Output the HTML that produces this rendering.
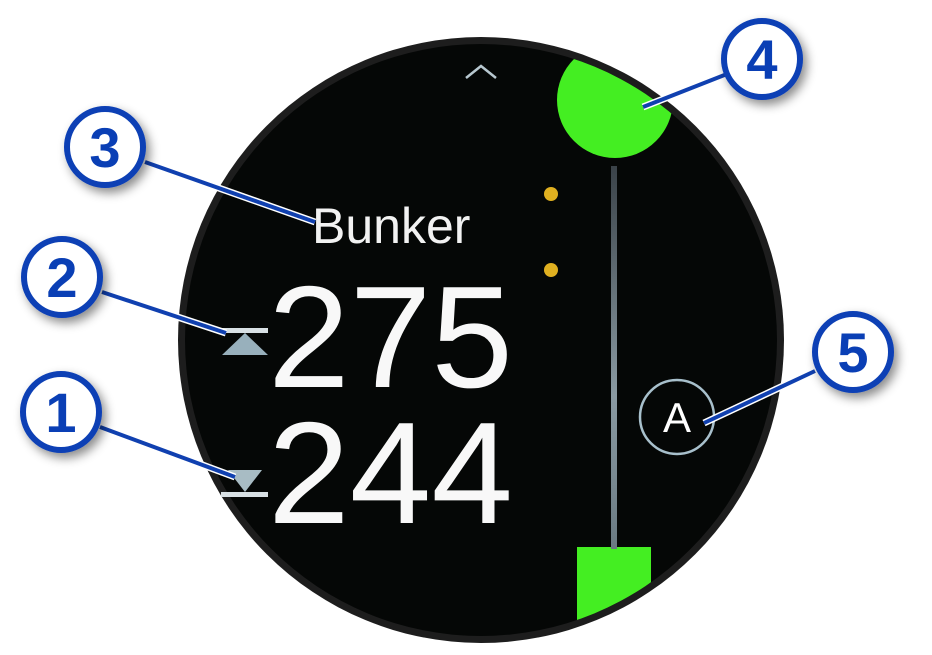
<!DOCTYPE html>
<html><head><style>html,body{margin:0;padding:0;background:#fff}</style></head>
<body>
<svg width="932" height="650" viewBox="0 0 932 650" xmlns="http://www.w3.org/2000/svg">
<defs>
<clipPath id="c"><circle cx="481" cy="340" r="296"/></clipPath>
<linearGradient id="bar" x1="0" y1="0" x2="0" y2="1"><stop offset="0" stop-color="#3a4248"/><stop offset="0.6" stop-color="#8a9aa2"/><stop offset="1" stop-color="#6a7a82"/></linearGradient>
<filter id="sh" x="-50%" y="-50%" width="200%" height="200%"><feDropShadow dx="4" dy="5" stdDeviation="5" flood-color="#000" flood-opacity="0.45"/></filter>
</defs>
<circle cx="481" cy="340" r="303" fill="#1d1d1d"/>
<circle cx="481" cy="340" r="296" fill="#050706"/>
<g clip-path="url(#c)">
<circle cx="615" cy="100" r="58" fill="#44ee22"/>
<rect x="577" y="547" width="74" height="110" fill="#44ee22"/>
</g>
<rect x="611" y="166" width="6" height="383" fill="url(#bar)"/>
<polyline points="466,78 481,66 496,78" fill="none" stroke="#b8c8d0" stroke-width="2.5"/>
<circle cx="551" cy="194" r="7" fill="#e0b020"/>
<circle cx="551" cy="270" r="7" fill="#e0b020"/>
<text x="312" y="243" font-family="Liberation Sans, sans-serif" font-size="50" fill="#f2f2f2">Bunker</text>
<text x="268" y="387" font-family="Liberation Sans, sans-serif" font-size="145" fill="#f8f8f8" textLength="245" lengthAdjust="spacingAndGlyphs">275</text>
<text x="268" y="523" font-family="Liberation Sans, sans-serif" font-size="145" fill="#f8f8f8" textLength="245" lengthAdjust="spacingAndGlyphs">244</text>
<rect x="221" y="328" width="47" height="5" fill="#d8e0e4"/>
<polygon points="245,333 222,355 268,355" fill="#98b0bc"/>
<polygon points="245,492 228,470 262,470" fill="#a8bcc4"/>
<rect x="221" y="492" width="47" height="5" fill="#d8e0e4"/>
<circle cx="677" cy="417" r="37" fill="none" stroke="#a8c0cc" stroke-width="2.5"/>
<text x="677" y="432" text-anchor="middle" font-family="Liberation Sans, sans-serif" font-size="42" fill="#fff">A</text>
<g stroke-linecap="butt">
<line x1="145" y1="162" x2="315" y2="222" stroke="#fff" stroke-width="7"/>
<line x1="145" y1="162" x2="315" y2="222" stroke="#1040b0" stroke-width="4"/>
<line x1="102" y1="292" x2="226" y2="333" stroke="#fff" stroke-width="7"/>
<line x1="102" y1="292" x2="226" y2="333" stroke="#1040b0" stroke-width="4"/>
<line x1="100" y1="427" x2="235" y2="477" stroke="#fff" stroke-width="7"/>
<line x1="100" y1="427" x2="235" y2="477" stroke="#1040b0" stroke-width="4"/>
<line x1="643" y1="107" x2="727" y2="74" stroke="#fff" stroke-width="7"/>
<line x1="643" y1="107" x2="727" y2="74" stroke="#1040b0" stroke-width="4"/>
<line x1="704" y1="423" x2="815" y2="371" stroke="#fff" stroke-width="7"/>
<line x1="704" y1="423" x2="815" y2="371" stroke="#1040b0" stroke-width="4"/>
</g>
<g font-family="Liberation Sans, sans-serif" font-weight="bold" font-size="56" fill="#0a3fb5" text-anchor="middle">
<g filter="url(#sh)">
<circle cx="105" cy="147" r="38" fill="#fff" stroke="#0a3fb5" stroke-width="6"/>
<circle cx="62" cy="277" r="38" fill="#fff" stroke="#0a3fb5" stroke-width="6"/>
<circle cx="61" cy="412" r="38" fill="#fff" stroke="#0a3fb5" stroke-width="6"/>
<circle cx="762" cy="59" r="38" fill="#fff" stroke="#0a3fb5" stroke-width="6"/>
<circle cx="853" cy="352" r="38" fill="#fff" stroke="#0a3fb5" stroke-width="6"/>
</g>
<text x="105" y="167">3</text>
<text x="62" y="297">2</text>
<text x="61" y="432">1</text>
<text x="762" y="79">4</text>
<text x="853" y="372">5</text>
</g>
</svg>
</body></html>
